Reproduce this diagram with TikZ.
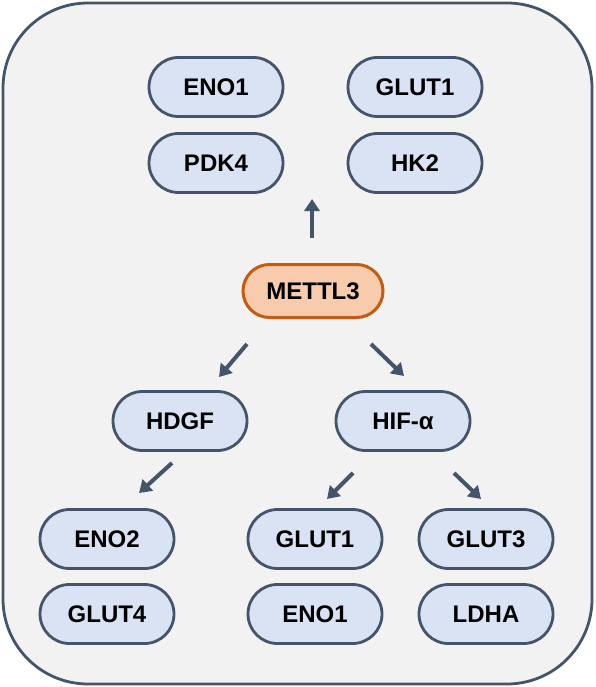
\documentclass[tikz,border=0pt]{standalone}
\usepackage{fontspec}
\setmainfont{Liberation Sans}
\usetikzlibrary{arrows.meta,shapes.misc}
\definecolor{edge}{HTML}{44546A}
\definecolor{boxfill}{HTML}{DAE3F3}
\definecolor{bg}{HTML}{F2F2F2}
\definecolor{orfill}{HTML}{F8CBAD}
\definecolor{ordraw}{HTML}{C55A11}
\tikzset{
  gene/.style={rounded rectangle, draw=edge, fill=boxfill, line width=2.8pt,
    minimum width=134pt, minimum height=59pt, inner sep=0pt,
    font=\fontsize{24}{27}\selectfont\bfseries, text=black},
  hub/.style={gene, draw=ordraw, fill=orfill, line width=3pt, minimum width=140pt, minimum height=53pt},
  arr/.style={draw=edge, line width=4pt, -{Triangle[length=12pt,width=15pt]}}
}
\begin{document}
\begin{tikzpicture}[x=1pt,y=-1pt]
\useasboundingbox (0,0) rectangle (595,687);
\draw[draw=edge, fill=bg, line width=2.8pt, rounded corners=85pt] (3,3) rectangle (592,684);
\node[gene] (eno1a) at (216,87) {ENO1};
\node[gene] (glut1a) at (415,87) {GLUT1};
\node[gene] (pdk4) at (216,163) {PDK4};
\node[gene] (hk2) at (415,163) {HK2};
\node[hub] (mettl3) at (313,291) {METTL3};
\node[gene] (hdgf) at (180,421) {HDGF};
\node[gene] (hif) at (403,421) {HIF-α};
\node[gene] (eno2) at (107,539) {ENO2};
\node[gene] (glut4) at (107,614) {GLUT4};
\node[gene] (glut1b) at (315,539) {GLUT1};
\node[gene] (eno1b) at (315,614) {ENO1};
\node[gene] (glut3) at (486,539) {GLUT3};
\node[gene] (ldha) at (486,614) {LDHA};
\coordinate (u1) at (312,238); \coordinate (u2) at (312,199);
\coordinate (l1) at (247,344); \coordinate (l2) at (219,377);
\coordinate (r1) at (371,344); \coordinate (r2) at (404,376);
\coordinate (h1) at (172,463); \coordinate (h2) at (139,493);
\coordinate (f1) at (353,473); \coordinate (f2) at (327,499);
\coordinate (g1) at (454,473); \coordinate (g2) at (481,499);
\draw[arr] (u1) -- (u2);
\draw[arr] (l1) -- (l2);
\draw[arr] (r1) -- (r2);
\draw[arr] (h1) -- (h2);
\draw[arr] (f1) -- (f2);
\draw[arr] (g1) -- (g2);
\end{tikzpicture}
\end{document}
